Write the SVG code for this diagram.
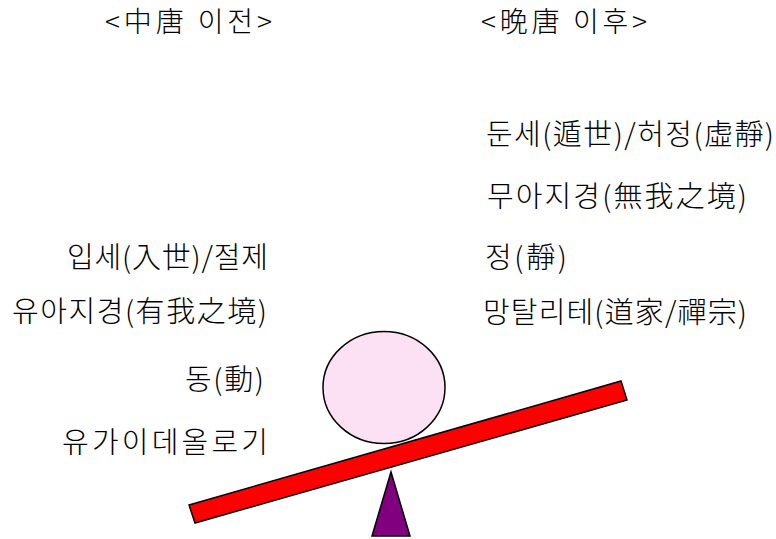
<svg xmlns="http://www.w3.org/2000/svg" width="776" height="539" viewBox="0 0 776 539">
<style>
  text { font-family: "Noto Sans CJK KR", "Noto Sans", sans-serif; fill: #000; font-weight: 300; }
  .h { font-size: 28px; }
  .t { font-size: 29px; }
  .l { text-anchor: end; }
  .shape { stroke: #000; stroke-width: 1.5; }
</style>
<rect width="776" height="539" fill="#fff"/>
<g id="header-left"><text class="h" x="105" y="32" textLength="167">&lt;中唐 이전&gt;</text></g>
<g id="header-right"><text class="h" x="481" y="32" textLength="166">&lt;晩唐 이후&gt;</text></g>

<g id="right-1"><text class="t" x="486" y="145" textLength="288">둔세(遁世)/허정(虛靜)</text></g>
<g id="right-2"><text class="t" x="487" y="207" textLength="260">무아지경(無我之境)</text></g>
<g id="right-3"><text class="t" x="485" y="268" textLength="82">정(靜)</text></g>
<g id="right-4"><text class="t" x="483" y="323" textLength="264">망탈리테(道家/禪宗)</text></g>

<g id="left-1"><text class="t l" x="268" y="268" textLength="201">입세(入世)/절제</text></g>
<g id="left-2"><text class="t l" x="267" y="322" textLength="255">유아지경(有我之境)</text></g>
<g id="left-3"><text class="t l" x="264" y="390" textLength="79">동(動)</text></g>
<g id="left-4"><text class="t l" x="268" y="453" textLength="206">유가이데올로기</text></g>

<g id="ball"><ellipse class="shape" cx="384" cy="387.5" rx="61" ry="56" fill="#FCE0F4"/></g>
<g id="plank"><polygon class="shape" points="189,505 621,381 627,400 195,523" fill="#FF0000"/></g>
<g id="fulcrum"><polygon class="shape" points="391,472 410,536 372,536" fill="#800080"/></g>
</svg>
